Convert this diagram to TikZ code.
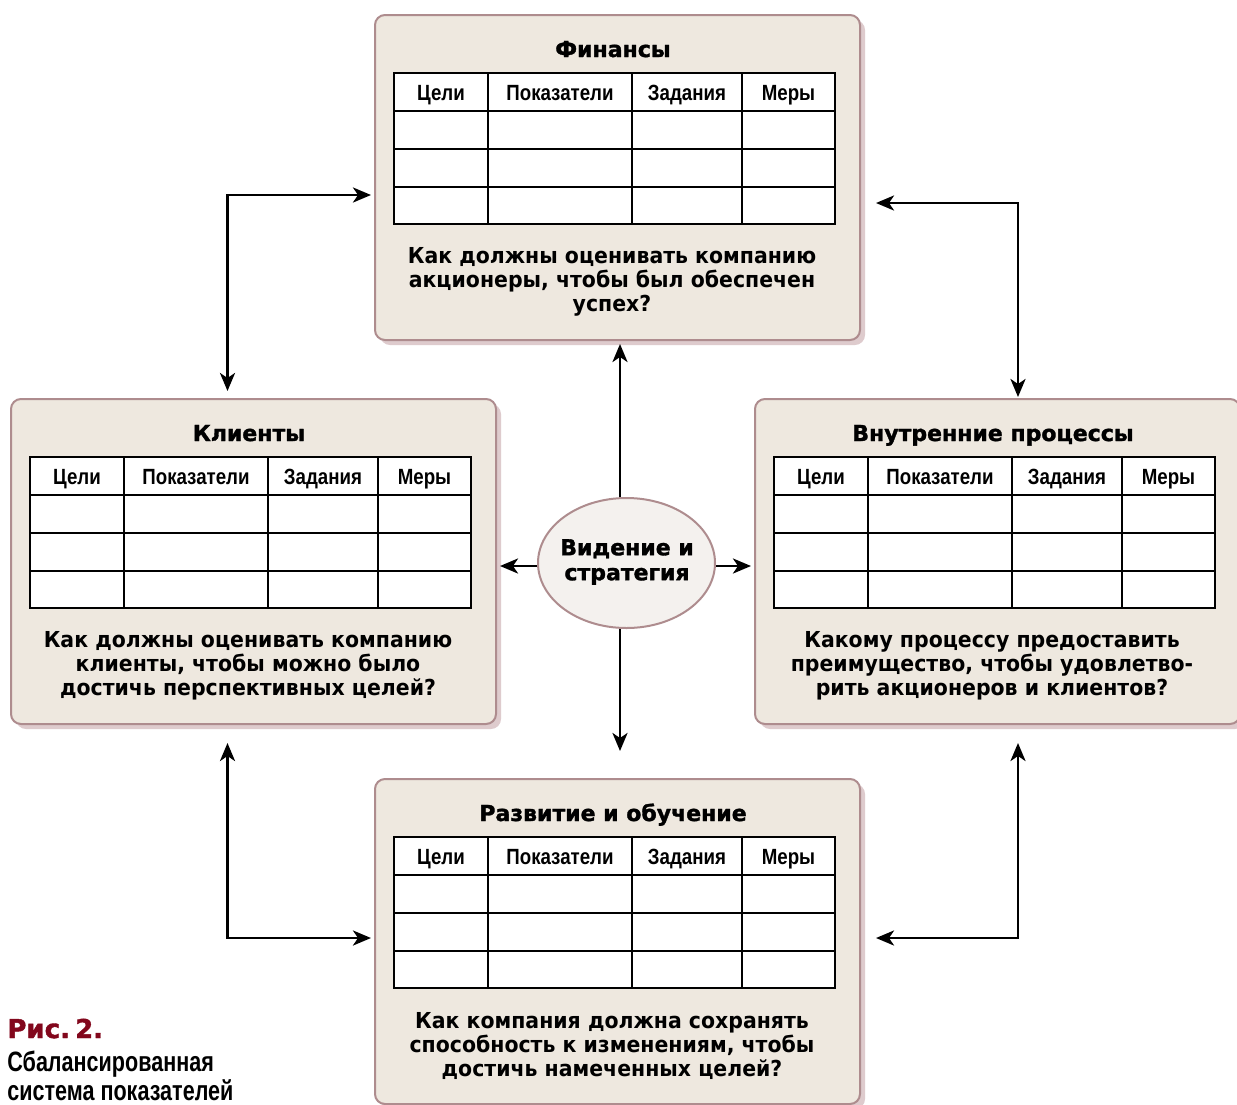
\documentclass[tikz,border=0pt]{standalone}
\usepackage{fontspec}
\setmainfont{DejaVu Sans}
\newfontfamily\qfont[FakeStretch=0.93]{DejaVu Sans}
\newfontfamily\titlefont[BoldFeatures={FakeBold=1.5}]{DejaVu Sans}
\newfontfamily\headfont[FakeStretch=0.85]{Liberation Sans}
\newfontfamily\capfont[FakeStretch=0.77]{Liberation Sans}
\usetikzlibrary{shapes.geometric,arrows.meta,shadows}
\definecolor{cardfill}{HTML}{EEE8DF}
\definecolor{cardline}{HTML}{AE8C8E}
\definecolor{cardshade}{HTML}{C9A9AD}
\definecolor{visfill}{HTML}{F4F1EE}
\definecolor{figred}{HTML}{82071C}
\begin{document}
\begin{tikzpicture}[x=0.5pt, y=-0.5pt]
\tikzset{card/.style={draw=cardline, line width=1pt, fill=cardfill, rounded corners=5pt,
    minimum width=242.5pt, minimum height=162.5pt, inner sep=0pt,
    drop shadow={shadow xshift=2.5pt, shadow yshift=-2.5pt, fill=cardshade, opacity=0.6}}}
\tikzset{cardtitle/.style={font=\titlefont\bfseries\fontsize{11}{12}\selectfont, inner sep=0pt, anchor=base}}
\tikzset{question/.style={font=\qfont\bfseries\fontsize{11}{12}\selectfont, align=center, inner sep=0pt}}
\tikzset{colhead/.style={font=\headfont\bfseries\fontsize{11}{12}\selectfont, inner sep=0pt, anchor=base}}
\tikzset{gridline/.style={line width=1.4pt, black}}
\tikzset{vision/.style={ellipse, draw=cardline, line width=1pt, fill=visfill, minimum width=88.5pt,
    minimum height=65pt, inner sep=0pt}}
\tikzset{vistext/.style={align=center, inner sep=0pt, font=\titlefont\bfseries\fontsize{11}{12.5}\selectfont}}
\tikzset{onearrow/.style={-{Stealth[length=9pt,width=7.5pt,inset=2.5pt]}, line width=1.4pt}}
\tikzset{twoarrow/.style={{Stealth[length=9pt,width=7.5pt,inset=2.5pt]}-{Stealth[length=9pt,width=7.5pt,inset=2.5pt]}, line width=1.4pt}}

\useasboundingbox (0,0) rectangle (1237,1104);
\clip (0,0) rectangle (1237,1104);
\fill[white] (0,0) rectangle (1237,1104);

% the four cards of the scorecard
\foreach \nm/\px/\py/\ttl/\qq in {
    fin/375/15/{Финансы}/{Как должны оценивать компанию\\акционеры, чтобы был обеспечен\\успех?},
    cli/11/399/{Клиенты}/{Как должны оценивать компанию\\клиенты, чтобы можно было\\достичь перспективных целей?},
    proc/755/399/{Внутренние процессы}/{Какому процессу предоставить\\преимущество, чтобы удовлетво-\\рить акционеров и клиентов?},
    dev/375/779/{Развитие и обучение}/{Как компания должна сохранять\\способность к изменениям, чтобы\\достичь намеченных целей?}}
{
\node[card] (\nm) at (\px+242.5,\py+162.5) {};
\node[cardtitle] (\nm-title) at (\px+238,\py+42) {\ttl};
\draw[gridline, fill=white] (\px+19,\py+58) rectangle (\px+460,\py+209);
\foreach \cx in {113,257,367} \draw[gridline] (\px+\cx,\py+58) -- (\px+\cx,\py+209);
\foreach \cy in {96,134,172} \draw[gridline] (\px+19,\py+\cy) -- (\px+460,\py+\cy);
\foreach \hx/\hd [count=\i] in {66/Цели,185/Показатели,312/Задания,413.5/Меры}
    \node[colhead] (\nm-h\i) at (\px+\hx,\py+85) {\hd};
\node[question] (\nm-q) at (\px+237,\py+267) {\qq};
}

\node[vision] (vis) at (626.5,563) {};
\node[vistext] (vis-text) at (627,562) {Видение и\\стратегия};

\draw[onearrow] ([shift={(-6.5,0)}]vis.north) -- ([shift={(2.5,3)}]fin.south);
\draw[onearrow] ([shift={(-6.5,0)}]vis.south) -- ([shift={(2.5,-27)}]dev.north);
\draw[onearrow] ([shift={(0,3)}]vis.west) -- ([shift={(3,4.5)}]cli.east);
\draw[onearrow] ([shift={(0,3)}]vis.east) -- ([shift={(-3,4.5)}]proc.west);

\draw[twoarrow] ([shift={(-3,17.5)}]fin.west) -| ([shift={(-26,-7)}]cli.north);
\draw[twoarrow] ([shift={(15,25.5)}]fin.east) -| ([shift={(20.5,-1)}]proc.north);
\draw[twoarrow] ([shift={(-3,-3.5)}]dev.west) -| ([shift={(-26,18)}]cli.south);
\draw[twoarrow] ([shift={(15,-3.5)}]dev.east) -| ([shift={(20.5,18)}]proc.south);

% caption
\node[anchor=base west, inner sep=0pt, text=figred, font=\titlefont\bfseries\fontsize{13}{13}\selectfont] (fig) at (7,1038) {Рис.\hspace{0.2em}2.};
\node[anchor=base west, inner sep=0pt, font=\capfont\bfseries\fontsize{14}{15}\selectfont] (cap1) at (7,1071) {Сбалансированная};
\node[anchor=base west, inner sep=0pt, font=\capfont\bfseries\fontsize{14}{15}\selectfont] (cap2) at (7,1100) {система показателей};
\end{tikzpicture}
\end{document}
